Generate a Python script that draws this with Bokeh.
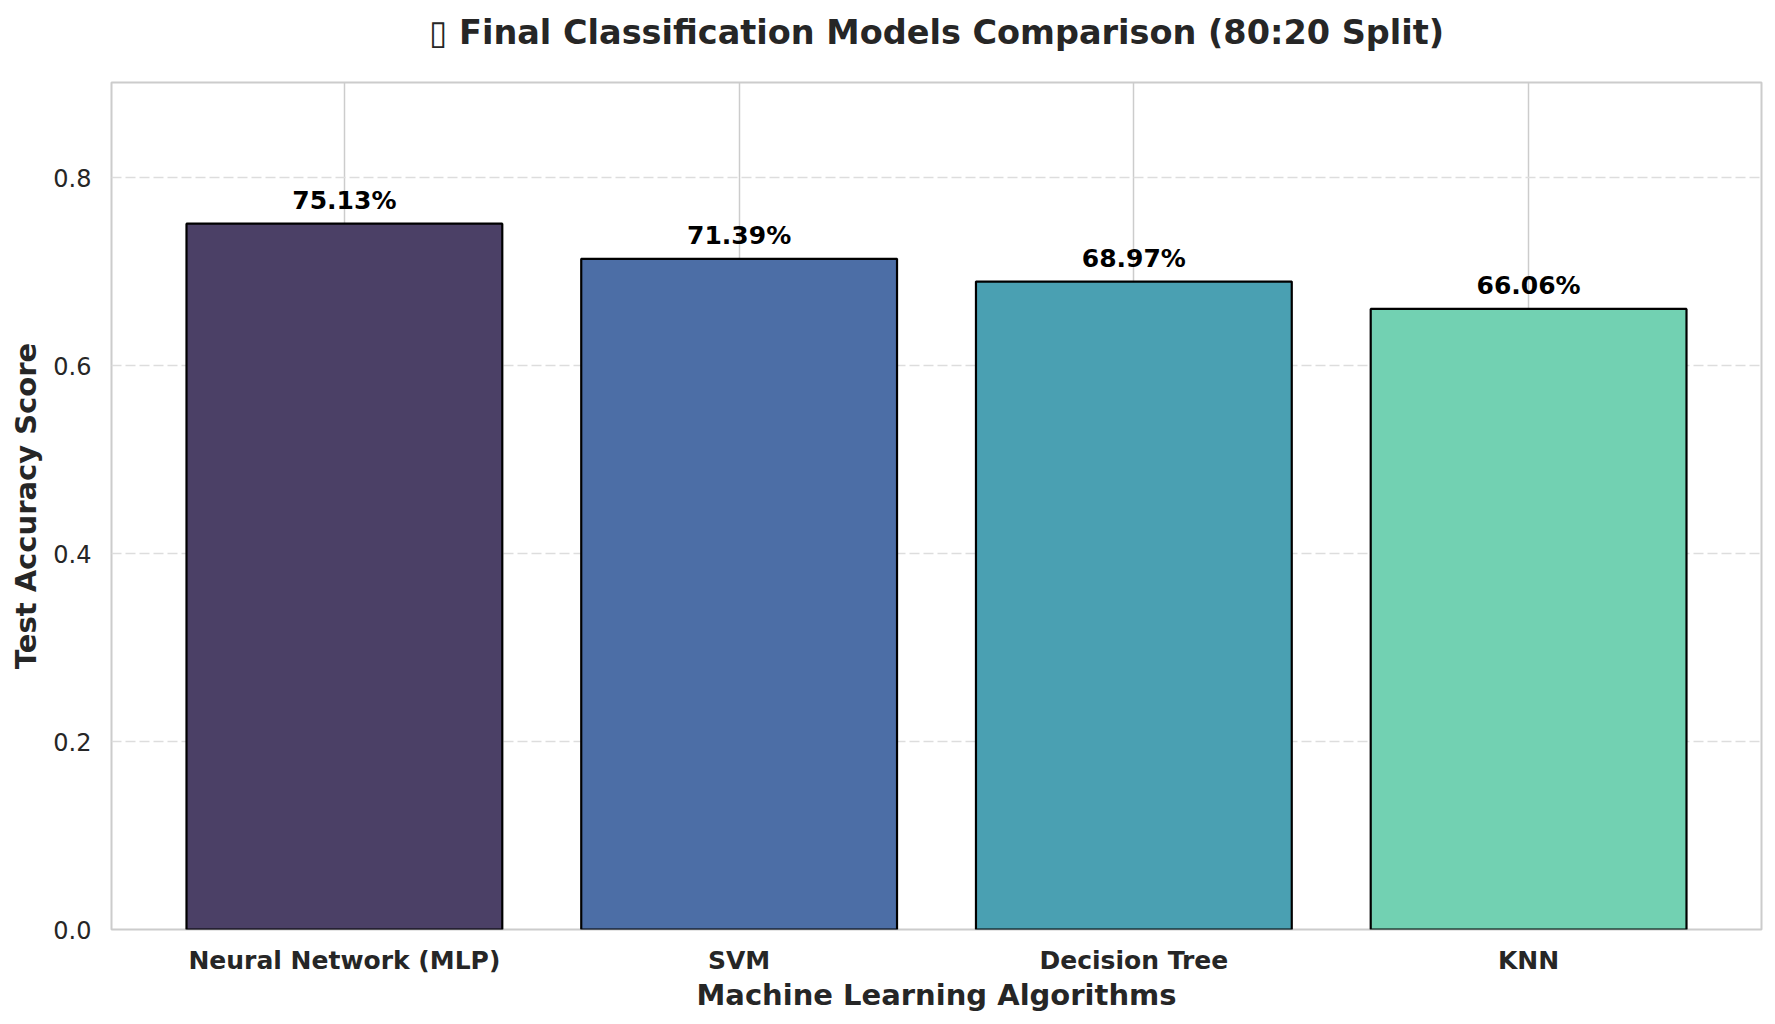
from bokeh.plotting import figure
from bokeh.models import ColumnDataSource, FactorRange, Range1d, LabelSet, Title, FixedTicker, PrintfTickFormatter
from bokeh.core.properties import value
from bokeh.embed import file_html
from bokeh.resources import INLINE

# chart data
models = ["Neural Network (MLP)", "SVM", "Decision Tree", "KNN"]
accuracy = [0.7513, 0.7139, 0.6897, 0.6606]
bar_colors = ["#4b4066", "#4c6ea6", "#4aa0b2", "#72d1b2"]
y_ticks = [0.0, 0.2, 0.4, 0.6, 0.8]
title_text = "\u25af Final Classification Models Comparison (80:20 Split)"

FONT = "DejaVu Sans"
TEXT_COLOR = "#262626"

labels = ["%.2f%%" % (v * 100) for v in accuracy]
source = ColumnDataSource(data=dict(model=models, acc=accuracy, color=bar_colors, label=labels))

p = figure(
    x_range=FactorRange(*models, range_padding=0.09, range_padding_units="absolute"),
    y_range=Range1d(0, max(accuracy) * 1.2),
    frame_width=1650, frame_height=847,
    min_border_left=111, min_border_right=6, min_border_top=82, min_border_bottom=87,
    output_backend="svg", toolbar_location=None,
    background_fill_color="white", border_fill_color="white",
)

# blank spacer right above the frame, then the real title above it
p.add_layout(Title(text=" ", text_font_size="10px", standoff=16), "above")
p.add_layout(Title(text=title_text, align="center", vertical_align="top", standoff=0,
                   text_font=FONT, text_font_size="33.5px", text_font_style="bold",
                   text_color=TEXT_COLOR), "above")

# bars
p.vbar(x="model", top="acc", width=0.8, source=source, fill_color="color",
       line_color="black", line_width=2.2)

# value labels
p.add_layout(LabelSet(x="model", y="acc", text="label", source=source,
                      text_align="center", text_baseline="bottom", y_offset=9,
                      text_font=value(FONT), text_font_size=value("25px"),
                      text_font_style="bold", text_color="black"))

# frame / spines
p.outline_line_color = "#cccccc"
p.outline_line_width = 2

# grid
p.xgrid.grid_line_color = "#cccccc"
p.xgrid.grid_line_width = 1.5
p.ygrid.grid_line_color = "#dddddd"
p.ygrid.grid_line_width = 1.3
p.ygrid.grid_line_dash = "10 4"

# axes
for ax in (p.xaxis[0], p.yaxis[0]):
    ax.axis_line_color = None
    ax.major_tick_line_color = None
    ax.minor_tick_line_color = None
    ax.major_tick_out = 0
    ax.major_tick_in = 0
    ax.axis_label_text_font = FONT
    ax.axis_label_text_font_size = "29px"
    ax.axis_label_text_font_style = "bold"
    ax.axis_label_text_color = TEXT_COLOR
    ax.major_label_text_font = FONT
    ax.major_label_text_color = TEXT_COLOR

p.xaxis.axis_label = "Machine Learning Algorithms"
p.xaxis.major_label_text_font_size = "25px"
p.xaxis.major_label_text_font_style = "bold"
p.xaxis.major_label_standoff = 16
p.xaxis.axis_label_standoff = 0

p.yaxis.axis_label = "Test Accuracy Score"
p.yaxis.ticker = FixedTicker(ticks=y_ticks)
p.yaxis.formatter = PrintfTickFormatter(format="%.1f")
p.yaxis.major_label_text_font_size = "24px"
p.yaxis.major_label_standoff = 20
p.yaxis.axis_label_standoff = 7

open("out.html", "w").write(file_html(p, INLINE))
